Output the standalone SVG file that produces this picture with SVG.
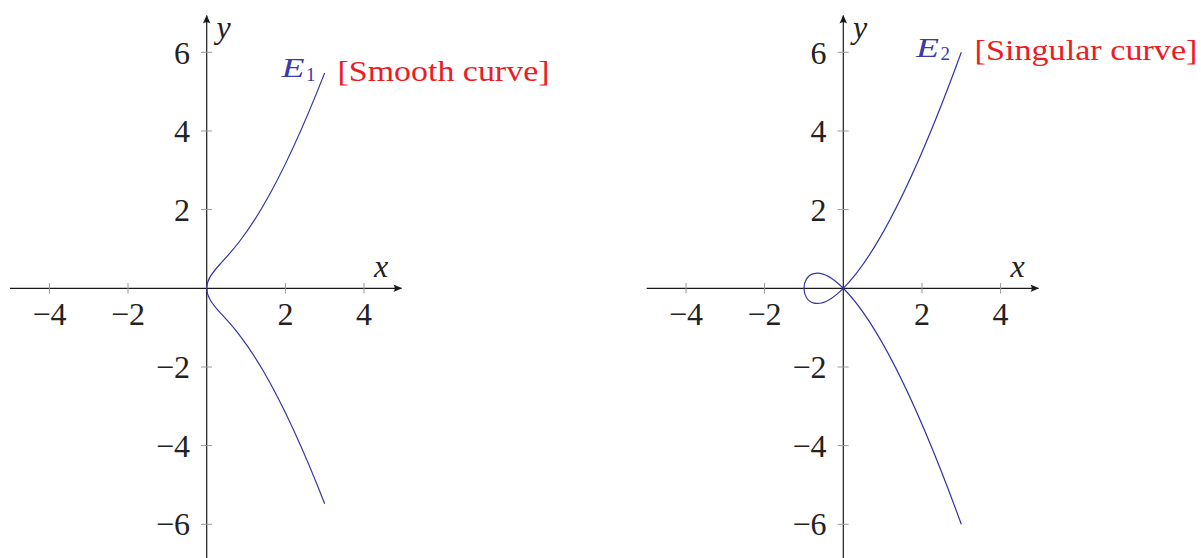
<svg xmlns="http://www.w3.org/2000/svg" width="1201" height="558" viewBox="0 0 1201 558">
<style>
.axis{stroke:#1a1a1a;stroke-width:1.2;fill:none}
.tick{stroke:#9a9a9a;stroke-width:1;fill:none}
.curve{stroke:#3434a6;stroke-width:1.2;fill:none}
.num{font-size:32px;fill:#222}
.lab{font-style:italic;font-size:32px;fill:#222}
.ename{font-style:italic;font-size:27px;fill:#3a3aaa}
.esub{font-size:19px;fill:#3a3aaa}
.note{font-size:30px;fill:#ed1c24}
</style>
<defs>
<marker id="arr" viewBox="-10 -5 11 10" refX="0" refY="0" markerWidth="11" markerHeight="10" orient="auto" markerUnits="userSpaceOnUse">
<path d="M0.5,0 L-8,-3.8 Q-5.5,0 -8,3.8 Z" fill="#1a1a1a"/>
</marker>
</defs>
<rect width="1201" height="558" fill="#ffffff"/>

<g id="plot1" font-family="Liberation Serif, Times New Roman, serif">
  <g id="axes1">
    <path class="axis" d="M10,288.3 H401.5" marker-end="url(#arr)"/>
    <path class="axis" d="M206.7,560 V15.5" marker-end="url(#arr)"/>
  </g>
  <g id="ticks1">
    <path class="tick" d="M49.4,283 V293.5 M128,283 V293.5 M285.4,283 V293.5 M364,283 V293.5"/>
    <path class="tick" d="M201,52.3 H212 M201,131 H212 M201,209.6 H212 M201,367 H212 M201,445.6 H212 M201,524.3 H212"/>
  </g>
  <g id="labels1">
    <text class="num" x="49.4" y="325" text-anchor="middle">−4</text>
    <text class="num" x="128" y="325" text-anchor="middle">−2</text>
    <text class="num" x="285.4" y="325" text-anchor="middle">2</text>
    <text class="num" x="364" y="325" text-anchor="middle">4</text>
    <text class="num" x="190" y="63.5" text-anchor="end">6</text>
    <text class="num" x="190" y="142" text-anchor="end">4</text>
    <text class="num" x="190" y="220.5" text-anchor="end">2</text>
    <text class="num" x="190" y="378" text-anchor="end">−2</text>
    <text class="num" x="190" y="456.5" text-anchor="end">−4</text>
    <text class="num" x="190" y="535" text-anchor="end">−6</text>
    <text class="lab" x="216.5" y="37.5">y</text>
    <text class="lab" x="374" y="277">x</text>
  </g>
  <g id="curveE1">
    <path class="curve" d="M324.69,503.72 C300.52,441.95 280.08,399.78 263.34,371.04 C244.46,338.64 230.30,323.66 220.86,313.38 C211.42,303.10 206.7,296.17 206.7,288.3 C206.7,280.43 211.42,273.50 220.86,263.22 C230.30,252.94 244.46,237.96 263.34,205.56 C280.08,176.82 300.52,134.65 324.69,72.88"/>
  </g>
  <g id="labelE1">
    <text class="ename" x="281.5" y="77" textLength="23" lengthAdjust="spacingAndGlyphs">E</text>
    <text class="esub" x="306" y="80.5">1</text>
    <text class="note" x="337.5" y="80.5" textLength="212" lengthAdjust="spacingAndGlyphs">[Smooth curve]</text>
  </g>
</g>

<g id="plot2" font-family="Liberation Serif, Times New Roman, serif">
  <g id="axes2">
    <path class="axis" d="M646.7,288.3 H1038.5" marker-end="url(#arr)"/>
    <path class="axis" d="M843.3,560 V15.5" marker-end="url(#arr)"/>
  </g>
  <g id="ticks2">
    <path class="tick" d="M686,283 V293.5 M764.6,283 V293.5 M922,283 V293.5 M1000.6,283 V293.5"/>
    <path class="tick" d="M837.6,52.3 H848.6 M837.6,131 H848.6 M837.6,209.6 H848.6 M837.6,367 H848.6 M837.6,445.6 H848.6 M837.6,524.3 H848.6"/>
  </g>
  <g id="labels2">
    <text class="num" x="686" y="325" text-anchor="middle">−4</text>
    <text class="num" x="764.6" y="325" text-anchor="middle">−2</text>
    <text class="num" x="922" y="325" text-anchor="middle">2</text>
    <text class="num" x="1000.6" y="325" text-anchor="middle">4</text>
    <text class="num" x="826.6" y="63.5" text-anchor="end">6</text>
    <text class="num" x="826.6" y="142" text-anchor="end">4</text>
    <text class="num" x="826.6" y="220.5" text-anchor="end">2</text>
    <text class="num" x="826.6" y="378" text-anchor="end">−2</text>
    <text class="num" x="826.6" y="456.5" text-anchor="end">−4</text>
    <text class="num" x="826.6" y="535" text-anchor="end">−6</text>
    <text class="lab" x="853" y="37.5">y</text>
    <text class="lab" x="1010.6" y="277">x</text>
  </g>
  <g id="curveE2">
    <path class="curve" d="M961.3,524.3 C751.5,-52.6 751.5,629.2 961.3,52.3"/>
  </g>
  <g id="labelE2">
    <text class="ename" x="916" y="56.5" textLength="23" lengthAdjust="spacingAndGlyphs">E</text>
    <text class="esub" x="940.5" y="60">2</text>
    <text class="note" x="974.5" y="60" textLength="223" lengthAdjust="spacingAndGlyphs">[Singular curve]</text>
  </g>
</g>
</svg>
